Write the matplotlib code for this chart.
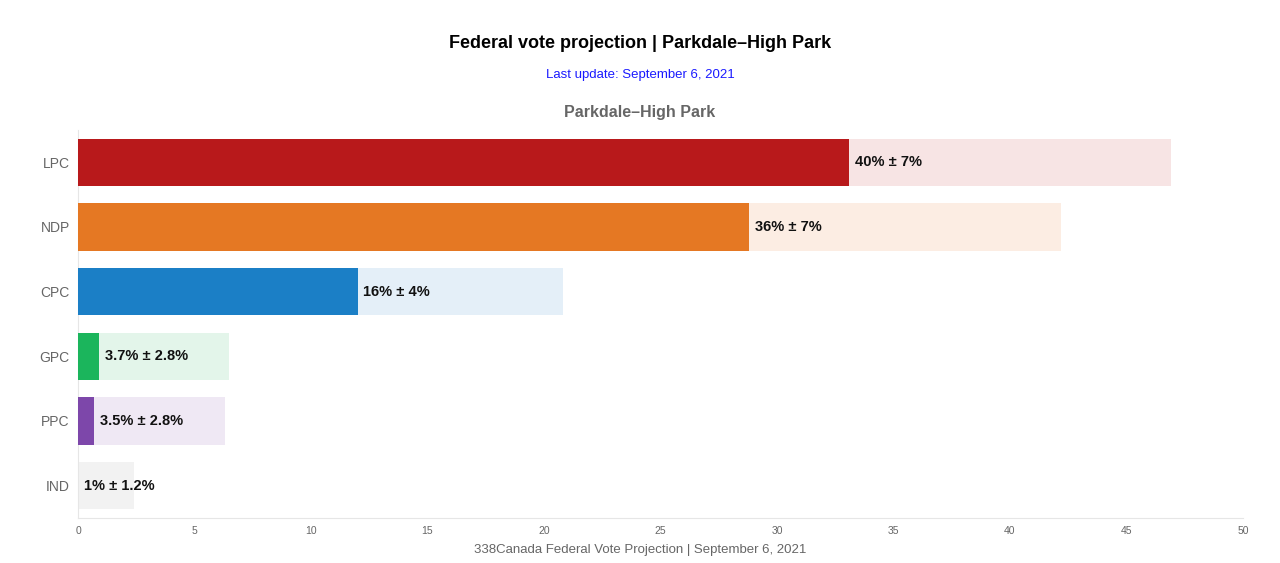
import matplotlib
matplotlib.use("Agg")
import matplotlib.pyplot as plt

plt.rcParams['font.family'] = ['Liberation Sans', 'DejaVu Sans']

# party projections: lower bound (dark bar) and upper bound (light bar)
parties = ["LPC", "NDP", "CPC", "GPC", "PPC", "IND"]
low = [33.1, 28.8, 12.0, 0.9, 0.7, 0.0]
high = [46.9, 42.2, 20.8, 6.5, 6.3, 2.4]
labels = ["40% ± 7%", "36% ± 7%", "16% ± 4%", "3.7% ± 2.8%", "3.5% ± 2.8%", "1% ± 1.2%"]
dark_colors = ["#b8191b", "#e57823", "#1b7fc6", "#1bb55c", "#7d47aa", "#bbbbbb"]
light_colors = ["#f7e4e4", "#fcede3", "#e4eff8", "#e3f5ea", "#efe8f4", "#f2f2f2"]
xticks = [0, 5, 10, 15, 20, 25, 30, 35, 40, 45, 50]

fig = plt.figure(figsize=(12.8, 5.63), dpi=100)
ax = fig.add_axes([78 / 1280, 45 / 563, (1243 - 78) / 1280, (433 - 45) / 563])

y = list(range(len(parties)))
ax.barh(y, high, height=0.73, color=light_colors, zorder=2)
ax.barh(y, low, height=0.73, color=dark_colors, zorder=3)
for i in y:
    ax.text(low[i] + 0.25, i, labels[i], va='center', ha='left',
            fontsize=10.5, fontweight='bold', color='#111111', zorder=4)

ax.set_ylim(len(parties) - 0.5, -0.5)
ax.set_xlim(0, 50)
ax.set_xticks(xticks)
ax.set_xticklabels([str(t) for t in xticks], fontsize=7.5, color='#666666')
ax.set_yticks(y)
ax.set_yticklabels(parties, fontsize=10, color='#666666')
ax.tick_params(axis='y', length=0, pad=6)
ax.tick_params(axis='x', length=0, pad=6)
for s in ['top', 'right']:
    ax.spines[s].set_visible(False)
for s in ['left', 'bottom']:
    ax.spines[s].set_color('#e6e6e6')

fig.text(0.5, 1 - 43 / 563, "Federal vote projection | Parkdale–High Park",
         ha='center', va='center', fontsize=13, fontweight='bold')
fig.text(0.5, 1 - 75 / 563, "Last update: September 6, 2021",
         ha='center', va='center', fontsize=9.5, color='#1a1aff')
fig.text(0.5, 1 - 112 / 563, "Parkdale–High Park",
         ha='center', va='center', fontsize=11.5, fontweight='bold', color='#666666')
fig.text(0.5, 1 - 550 / 563, "338Canada Federal Vote Projection | September 6, 2021",
         ha='center', va='center', fontsize=9.5, color='#666666')

fig.savefig("out.png", dpi=100, facecolor='white')
